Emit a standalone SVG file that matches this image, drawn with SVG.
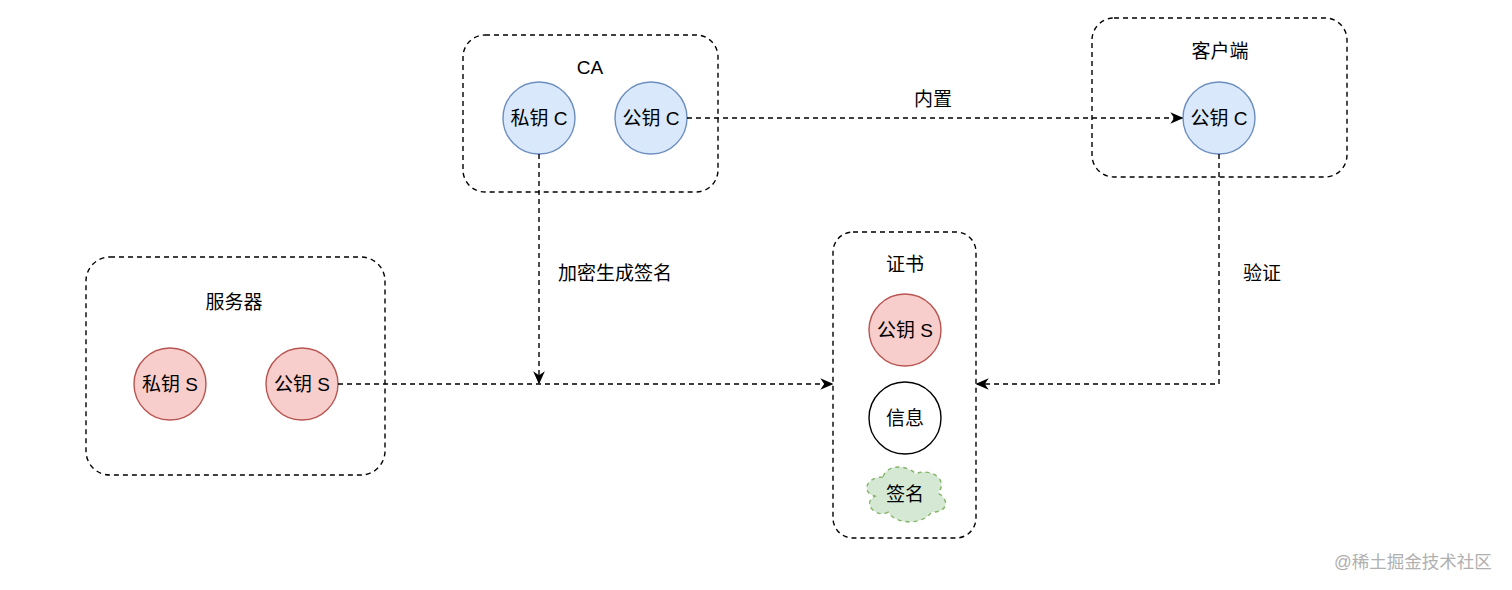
<svg xmlns="http://www.w3.org/2000/svg" width="1512" height="590" viewBox="0 0 1512 590">
<defs>
<style>
text{font-family:"Liberation Sans","Noto Sans CJK SC",sans-serif;font-size:19px;fill:#000;text-anchor:middle;dominant-baseline:central}
.grp{fill:none;stroke:#000;stroke-width:1.4;stroke-dasharray:5 4}
.blue{fill:#dae8fc;stroke:#6c8ebf;stroke-width:1.4}
.red{fill:#f8cecc;stroke:#b85450;stroke-width:1.4}
.plain{fill:#fff;stroke:#000;stroke-width:1.4}
.green{fill:#d5e8d4;stroke:#82b366;stroke-width:1.4;stroke-dasharray:4 4}
.edge{fill:none;stroke:#000;stroke-width:1.4;stroke-dasharray:5 4}
.wm{fill:#b0b0b0;font-size:17.5px}
</style>
<marker id="arr" viewBox="0 0 10 10" refX="9" refY="5" markerWidth="13" markerHeight="13" markerUnits="userSpaceOnUse" orient="auto">
<path d="M0,0.5 L10,5 L0,9.5 L3,5 Z" fill="#000"/>
</marker>
</defs>
<rect width="1512" height="590" fill="#fff"/>

<g id="ca">
<rect class="grp" x="463" y="35" width="255" height="157" rx="22"/>
<text x="590" y="67">CA</text>
</g>
<g id="ca-private">
<circle class="blue" cx="539" cy="118" r="36"/>
<text x="539" y="118">私钥 C</text>
</g>
<g id="ca-public">
<circle class="blue" cx="651" cy="118" r="36"/>
<text x="651" y="118">公钥 C</text>
</g>

<g id="client">
<rect class="grp" x="1092" y="18" width="255" height="159" rx="22"/>
<text x="1220" y="51">客户端</text>
</g>
<g id="client-public">
<circle class="blue" cx="1219" cy="118" r="36"/>
<text x="1219" y="118">公钥 C</text>
</g>

<g id="server">
<rect class="grp" x="86" y="257" width="299" height="218" rx="24"/>
<text x="234" y="302">服务器</text>
</g>
<g id="server-private">
<circle class="red" cx="170" cy="384" r="36"/>
<text x="170" y="384">私钥 S</text>
</g>
<g id="server-public">
<circle class="red" cx="302" cy="384" r="36"/>
<text x="302" y="384">公钥 S</text>
</g>

<g id="cert">
<rect class="grp" x="833" y="232" width="143" height="306" rx="20"/>
<text x="905" y="264">证书</text>
</g>
<g id="cert-public">
<circle class="red" cx="905" cy="330" r="36"/>
<text x="905" y="330">公钥 S</text>
</g>
<g id="cert-info">
<circle class="plain" cx="905" cy="418" r="36"/>
<text x="905" y="418">信息</text>
</g>
<g id="cert-sign">
<path class="green" d="M883,477 C865.4,477 861,493 875.1,496.2 C861,503.2 876.8,518.6 888.3,512.2 C896.2,525 922.6,525 931.4,512.2 C949,512.2 949,499.4 938,493 C949,480.2 931.4,467.4 916,473.8 C905,464.2 887.4,464.2 883,477 Z"/>
<text x="905" y="494">签名</text>
</g>

<g id="connectors">
<path class="edge" d="M687,118 L1182,118" marker-end="url(#arr)"/>
<text x="933" y="99">内置</text>
<path class="edge" d="M539,154 L539,383" marker-end="url(#arr)"/>
<text x="615" y="273">加密生成签名</text>
<path class="edge" d="M338,384 L832,384" marker-end="url(#arr)"/>
<path class="edge" d="M1219,154 L1219,384 L977,384" marker-end="url(#arr)"/>
<text x="1262" y="273">验证</text>
</g>

<text class="wm" x="1413" y="562">@稀土掘金技术社区</text>
</svg>
